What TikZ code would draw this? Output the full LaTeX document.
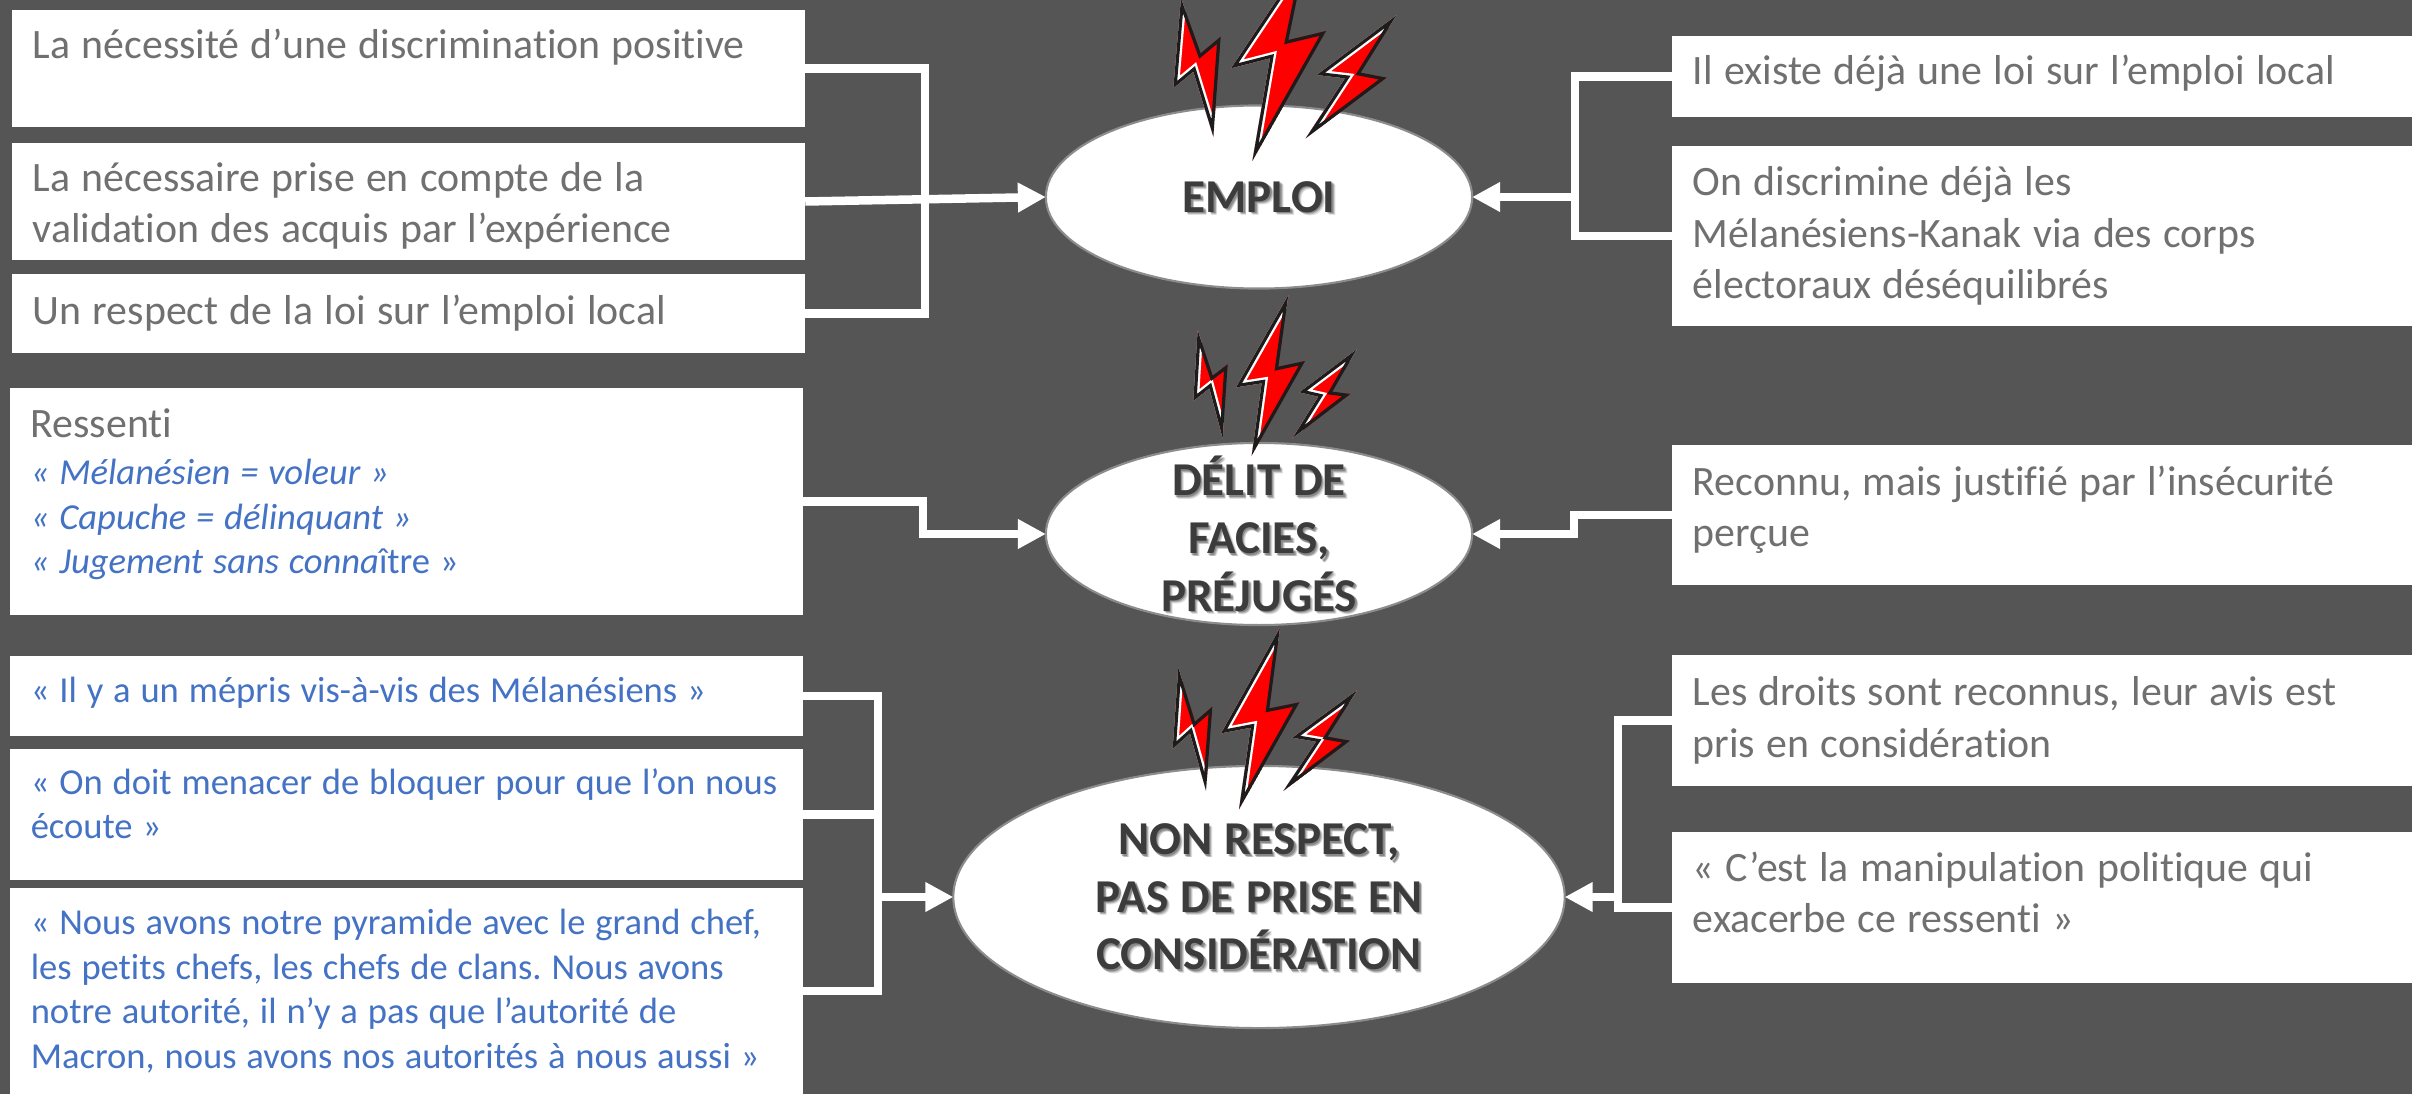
\documentclass[tikz,border=0pt]{standalone}
\usepackage{fontspec}
\setmainfont{Carlito}[WordSpace=1.19,Ligatures=NoCommon]
\frenchspacing
\usepackage{tikz}
\usetikzlibrary{arrows.meta,calc,shapes.geometric}
\definecolor{slide}{RGB}{85,85,85}
\definecolor{graytext}{RGB}{112,112,112}
\definecolor{bluetext}{RGB}{68,114,196}
\definecolor{darktext}{RGB}{60,60,60}
\definecolor{boltred}{RGB}{255,0,0}
\definecolor{boltedge}{RGB}{28,28,28}

% one lightning bolt: top, right notch, right tip, bottom, left notch, left tip
\newcommand{\boltshape}[6]{%
  \begin{scope}
    \clip #1 -- #2 -- #3 -- #4 -- #5 -- #6 -- cycle;
    \fill[boltred] #1 -- #2 -- #3 -- #4 -- #5 -- #6 -- cycle;
    \draw[white,line width=0.11cm] #1 -- #6 -- #5 -- #4;
    \draw[boltedge,line width=0.064cm,miter limit=20] #1 -- #2 -- #3 -- #4 -- #5 -- #6 -- cycle;
  \end{scope}}
% soft shadow under the text of an oval
\newcommand{\ovaltext}[2]{%
  \foreach \s/\o in {3.2/.12,2.4/.18,1.6/.25}
    \node[ovaltxt,text=black,opacity=\o] at ([shift={(\s,\s)}]#1) {#2};
  \node[ovaltxt] (#1txt) at (#1) {#2};}

\begin{document}
\begin{tikzpicture}[x=0.01cm,y=-0.01cm,
    box/.style={rectangle,fill=white,inner xsep=0.21cm,inner ysep=0pt,outer sep=0pt,align=flush left,text=graytext,font=\fontsize{11.9}{14.7}\selectfont},
    leftbox/.style={box,text width=7.51cm,minimum width=7.93cm},
    rightbox/.style={box,text width=6.98cm,minimum width=7.4cm},
    quote/.style={text=bluetext,font=\fontsize{10.4}{12.7}\selectfont},
    oval/.style={ellipse,fill=white,draw=gray!90,line width=0.6pt,inner sep=0pt,outer sep=0pt},
    ovaltxt/.style={align=center,inner sep=0pt,text=darktext,font=\fontsize{13.4}{16.4}\selectfont\bfseries},
    link/.style={draw=white,line width=0.085cm,line join=miter},
    linkarrow/.style={link,-{Triangle[length=0.28cm,width=0.28cm]}}]

    \clip (0,0) rectangle (2412,1094);
    \fill[slide] (0,0) rectangle (2412,1094);

    % Ovals
    \node[oval,minimum width=4.26cm,minimum height=1.83cm] (emploi) at (1259,197) {};
    \node[oval,minimum width=4.26cm,minimum height=1.82cm] (delit) at (1259,534) {};
    \node[oval,minimum width=6.11cm,minimum height=2.62cm] (nonrespect) at (1259,897) {};

    % Left boxes
    \node[leftbox,minimum height=1.17cm] (necessite) at (408.5,68.5) {La nécessité d’une discrimination positive\par\vspace*{12.2pt}};
    \node[leftbox,minimum height=1.17cm] (validation) at (408.5,201.5) {\rule{0pt}{10.8pt}La nécessaire prise en compte de la\\validation des acquis par l’expérience};
    \node[leftbox,minimum height=0.79cm] (respect) at (408.5,313.5) {Un respect de la loi sur l’emploi local};
    \node[leftbox,minimum height=2.27cm] (ressenti) at (406.5,501.5) {{\fontsize{11.9}{12.7}\selectfont Ressenti\\[0.6pt]\fontsize{10.4}{12.7}\selectfont\color{bluetext}\textit{« Mélanésien = voleur »}\\\textit{« Capuche = délinquant »}\\\textit{« Jugement sans conna}ître »\par}\vspace*{4pt}};
    \node[leftbox,quote,minimum height=0.80cm] (mepris) at (406.5,696) {« Il y a un mépris vis-à-vis des Mélanésiens »\par\vspace*{2pt}};
    \node[leftbox,quote,minimum height=1.31cm] (menacer) at (406.5,814.5) {« On doit menacer de bloquer pour que l’on nous\\écoute »\par\vspace*{6.1pt}};
    \node[leftbox,quote,minimum height=2.06cm] (pyramide) at (406.5,991) {« Nous avons notre pyramide avec le grand chef,\\les petits chefs, les chefs de clans. Nous avons\\notre autorité, il n’y a pas que l’autorité de\\Macron, nous avons nos autorités à nous aussi »};

    % Right boxes
    \node[rightbox,minimum height=0.81cm] (loilocal) at (2042,76.5) {Il existe déjà une loi sur l’emploi local\par\vspace*{1.7pt}};
    \node[rightbox,minimum height=1.80cm] (corps) at (2042,236) {On discrimine déjà les\\Mélanésiens-Kanak via des corps\\électoraux déséquilibrés};
    \node[rightbox,minimum height=1.40cm] (reconnu) at (2042,515) {Reconnu, mais justifié par l’insécurité\\perçue\par\vspace*{3pt}};
    \node[rightbox,minimum height=1.31cm] (droits) at (2042,720.5) {Les droits sont reconnus, leur avis est\\pris en considération};
    \node[rightbox,minimum height=1.51cm] (manip) at (2042,907.5) {« C’est la manipulation politique qui\\exacerbe ce ressenti »\par\vspace*{8.6pt}};

    % Junctions
    \coordinate (emploibus) at (925,197);
    \coordinate (emploibusr) at (1575,197);
    \coordinate (delitbus) at (923,534);
    \coordinate (delitbusr) at (1574,534);
    \coordinate (respectbus) at (878,897);
    \coordinate (respectbusr) at (1618,897);

    % Connectors
    \draw[link] (necessite.east) -| (emploibus) |- (respect.east);
    \draw[linkarrow] (validation.east) -- (emploi.west);
    \draw[link] (loilocal.west) -| (emploibusr) |- (corps.west);
    \draw[linkarrow] (emploibusr) -- (emploi.east);
    \draw[linkarrow] (ressenti.east) -| (delitbus) -- (delit.west);
    \draw[linkarrow] (reconnu.west) -| (delitbusr) -- (delit.east);
    \draw[link] (mepris.east) -| (respectbus) |- (pyramide.east);
    \draw[link] (menacer.east) -- (menacer.east -| respectbus);
    \draw[linkarrow] (respectbus) -- (nonrespect.west);
    \draw[link] (droits.west) -| (respectbusr) |- (manip.west);
    \draw[linkarrow] (respectbusr) -- (nonrespect.east);

    % Oval texts
    \ovaltext{emploi}{EMPLOI}
    \ovaltext{delit}{DÉLIT DE\\FACIES,\\PRÉJUGÉS}
    \ovaltext{nonrespect}{NON RESPECT,\\PAS DE PRISE EN\\CONSIDÉRATION}

    % Bolts, in the pixels of a 3x crop
    \begin{scope}[shift={(1050,0)},scale=1/3]
        \boltshape{(393,-5)}{(452,160)}{(512,110)}{(490,410)}{(430,215)}{(370,265)}
        \boltshape{(767,-130)}{(715,120)}{(828,93)}{(607,483)}{(660,175)}{(543,205)}
        \boltshape{(1040,45)}{(932,218)}{(1010,233)}{(767,415)}{(885,235)}{(800,225)}
    \end{scope}
    \begin{scope}[shift={(1170,285)},scale=1/3]
        \boltshape{(83,135)}{(128,272)}{(173,238)}{(158,460)}{(118,310)}{(70,348)}
        \boltshape{(355,30)}{(325,245)}{(405,228)}{(245,512)}{(275,295)}{(198,307)}
        \boltshape{(560,193)}{(487,320)}{(541,327)}{(367,460)}{(445,335)}{(388,322)}
    \end{scope}
    \begin{scope}[shift={(1160,625)},scale=1/3]
        \boltshape{(55,128)}{(105,290)}{(157,245)}{(138,497)}{(90,325)}{(38,372)}
        \boltshape{(360,8)}{(328,250)}{(418,232)}{(237,553)}{(272,308)}{(183,325)}
        \boltshape{(592,195)}{(503,335)}{(570,347)}{(370,498)}{(468,350)}{(397,338)}
    \end{scope}
\end{tikzpicture}
\end{document}
